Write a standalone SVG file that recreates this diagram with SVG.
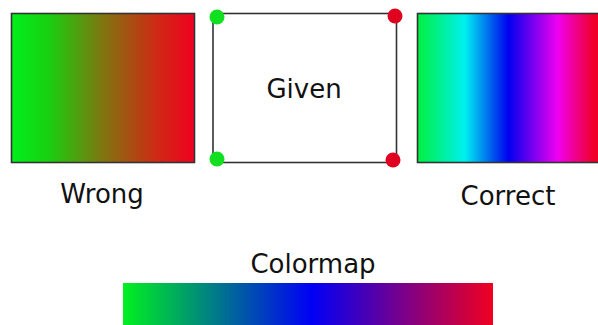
<svg xmlns="http://www.w3.org/2000/svg" width="598" height="325" viewBox="0 0 598 325">
<defs>
<linearGradient id="gWrong" x1="0" y1="0" x2="1" y2="0">
<stop offset="0" stop-color="#00f01c"/>
<stop offset="0.2" stop-color="#18d010"/>
<stop offset="0.5" stop-color="#807510"/>
<stop offset="0.8" stop-color="#d02815"/>
<stop offset="1" stop-color="#f00020"/>
</linearGradient>
<linearGradient id="gCorrect" x1="0" y1="0" x2="1" y2="0">
<stop offset="0" stop-color="#00f040"/>
<stop offset="0.26" stop-color="#00f0f0"/>
<stop offset="0.5" stop-color="#0000ee"/>
<stop offset="0.77" stop-color="#f000f0"/>
<stop offset="0.96" stop-color="#f00030"/>
<stop offset="1" stop-color="#f00020"/>
</linearGradient>
<linearGradient id="gMap" x1="0" y1="0" x2="1" y2="0">
<stop offset="0" stop-color="#00f020"/>
<stop offset="0.51" stop-color="#0000f5"/>
<stop offset="1" stop-color="#f00020"/>
</linearGradient>
<style>
.box{stroke:#333;stroke-width:1.6}
.lbl{font-family:"DejaVu Sans",sans-serif;font-size:26px;fill:#111;text-anchor:middle}
.gd{fill:#10e020}
.rd{fill:#e00020}
</style>
</defs>
<rect width="598" height="325" fill="#fff"/>
<g id="wrong">
<rect class="box" x="11.5" y="13.5" width="183" height="149" fill="url(#gWrong)"/>
<text class="lbl" x="102" y="203">Wrong</text>
</g>
<g id="given">
<rect class="box" x="213" y="13.5" width="183.5" height="149" fill="#fff"/>
<circle class="gd" cx="217" cy="17" r="7.5"/>
<circle class="gd" cx="217" cy="159" r="7.5"/>
<circle class="rd" cx="395" cy="16" r="7.5"/>
<circle class="rd" cx="393" cy="160" r="7.5"/>
<text class="lbl" x="304" y="98">Given</text>
</g>
<g id="correct">
<rect class="box" x="417.5" y="13.5" width="182" height="149" fill="url(#gCorrect)"/>
<text class="lbl" x="508" y="205">Correct</text>
</g>
<g id="colormap">
<rect x="123" y="283" width="370" height="45" fill="url(#gMap)"/>
<text class="lbl" x="313" y="273">Colormap</text>
</g>
<g id="connectors"/>
</svg>
